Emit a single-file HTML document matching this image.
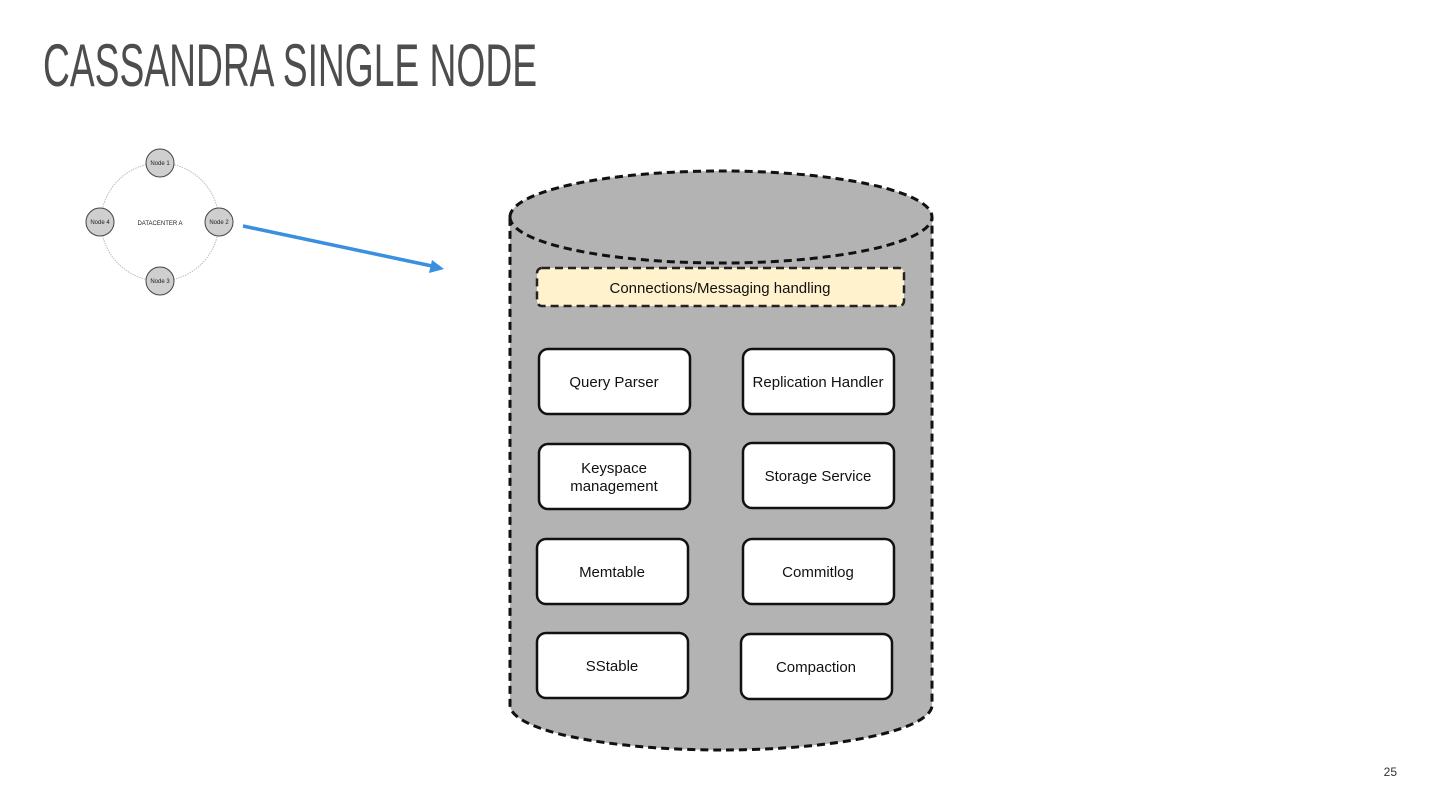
<!DOCTYPE html>
<html><head><meta charset="utf-8"><style>
html,body{margin:0;padding:0;background:#fff;}
svg{display:block;font-family:"Liberation Sans",Arial,sans-serif;}
</style></head><body>
<svg width="1440" height="810" viewBox="0 0 1440 810" xmlns="http://www.w3.org/2000/svg">
<rect width="1440" height="810" fill="#fff"/>
<text x="43" y="86" font-size="60" fill="#4d4d4d" textLength="494" lengthAdjust="spacingAndGlyphs">CASSANDRA SINGLE NODE</text>
<text x="1397" y="776" font-size="12" fill="#333" text-anchor="end">25</text>

<!-- small datacenter ring -->
<circle cx="160" cy="222" r="59" fill="none" stroke="#bbb" stroke-width="1" stroke-dasharray="1.5 1"/>
<g fill="#cfcfcf" stroke="#444" stroke-width="1">
<circle cx="160" cy="163" r="14"/><circle cx="219" cy="222" r="14"/>
<circle cx="160" cy="281" r="14"/><circle cx="100" cy="222" r="14"/>
</g>
<g font-size="6" fill="#222" text-anchor="middle">
<text x="160" y="165">Node 1</text><text x="219" y="224">Node 2</text>
<text x="160" y="283">Node 3</text><text x="100" y="224">Node 4</text>
<text x="160" y="225">DATACENTER A</text>
</g>
<line x1="243" y1="226" x2="432" y2="266" stroke="#3b8fe0" stroke-width="3.5"/>
<polygon points="444,269 429,273 432,260" fill="#3b8fe0"/>

<!-- cylinder -->
<path d="M510 217 A211 46 0 0 1 932 217 L932 705 A211 45 0 0 1 510 705 Z" fill="#b3b3b3" stroke="#111" stroke-width="3" stroke-dasharray="8 5"/>
<path d="M510 217 A211 46 0 0 0 932 217" fill="none" stroke="#111" stroke-width="3" stroke-dasharray="8 5"/>

<rect x="537" y="268" width="367" height="38" rx="5" fill="#fff2cc" stroke="#222" stroke-width="2.5" stroke-dasharray="8 5"/>
<text x="720" y="293" font-size="15" fill="#111" text-anchor="middle">Connections/Messaging handling</text>

<g fill="#fff" stroke="#111" stroke-width="2.5">
<rect x="539" y="349" width="151" height="65" rx="9"/>
<rect x="743" y="349" width="151" height="65" rx="9"/>
<rect x="539" y="444" width="151" height="65" rx="9"/>
<rect x="743" y="443" width="151" height="65" rx="9"/>
<rect x="537" y="539" width="151" height="65" rx="9"/>
<rect x="743" y="539" width="151" height="65" rx="9"/>
<rect x="537" y="633" width="151" height="65" rx="9"/>
<rect x="741" y="634" width="151" height="65" rx="9"/>
</g>
<g font-size="15" fill="#111" text-anchor="middle">
<text x="614" y="387">Query Parser</text>
<text x="818" y="387">Replication Handler</text>
<text x="614" y="473">Keyspace</text>
<text x="614" y="491">management</text>
<text x="818" y="481">Storage Service</text>
<text x="612" y="577">Memtable</text>
<text x="818" y="577">Commitlog</text>
<text x="612" y="671">SStable</text>
<text x="816" y="672">Compaction</text>
</g>
</svg>
</body></html>
